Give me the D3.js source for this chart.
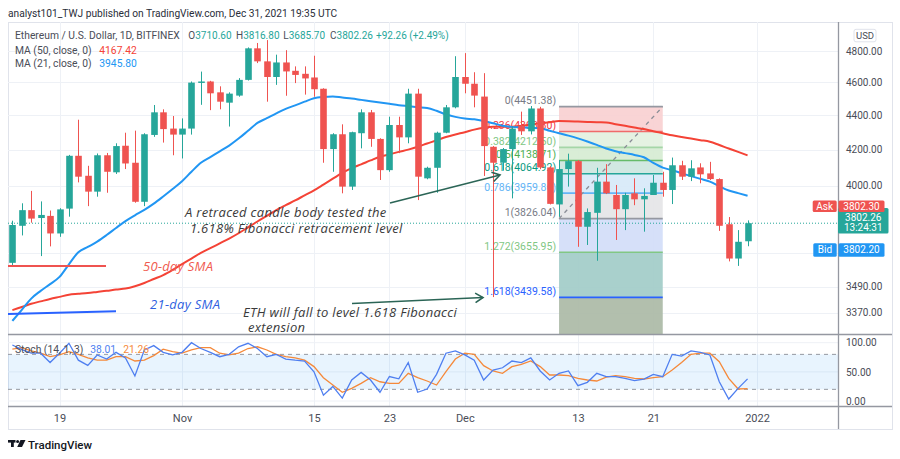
<!DOCTYPE html>
<html><head><meta charset="utf-8">
<script src="https://cdn.jsdelivr.net/npm/d3@7"></script>
<style>
html,body{margin:0;padding:0;background:#fff;}
svg{display:block;font-family:Roboto,"Liberation Sans",sans-serif;}
</style></head><body>
<svg id="chart" width="900" height="459"></svg>
<script>
// ---------------- DATA ----------------
const firstDay = "2021-10-14", lastDay = "2021-12-31";
const open  = [3604,3789,3870,3829,3840,3750,3878,4165,4054,3968,4168,4073,4222,4126,3914,4284,4417,4321,4286,4321,4596,4605,4538,4475,4518,4615,4816,4732,4633,4725,4672,4653,4630,4560,4203,4288,3995,4294,4417,4261,4085,4342,4270,4530,4040,4098,4297,4447,4633,4591,4512,4216,4126,4203,4335,4305,4440,4100,3900,4091,4135,3784,3856,4022,3950,3875,3959,3927,3950,4016,3977,4112,4049,4100,4067,4036,3797,3625,3710.6];
const high  = [3815,3906,3972,3916,3868,3880,4170,4373,4109,4178,4181,4236,4297,4309,4294,4461,4435,4395,4381,4605,4667,4609,4575,4538,4626,4822,4851,4870,4775,4804,4700,4700,4768,4563,4294,4346,4303,4435,4431,4265,4391,4391,4560,4560,4104,4303,4461,4765,4785,4663,4657,4220,4209,4334,4421,4455,4450,4107,4141,4177,4141,3879,4098,4118,4004,3962,4040,3986,4058,4076,4155,4137,4140,4123,4131,4040,3834,3767,3816.8];
const low   = [3593,3740,3805,3637,3685,3733,3836,4018,3891,3941,3962,4064,4091,3909,3891,4273,4240,4168,4150,4286,4462,4430,4435,4333,4511,4611,4721,4481,4584,4517,4595,4524,4511,4126,4076,3959,3977,4207,4216,4031,4076,4180,4236,3923,4035,3962,4294,4441,4532,4447,4053,3441,4082,3932,4284,4287,4090,3900,3835,3995,3683,3692,3614,3955,3717,3767,3896,3759,3950,3941,3902,4031,4025,4013,4031,3763,3611,3589,3685.7];
const close = [3793,3870,3826,3845,3750,3874,4165,4049,3968,4168,4076,4220,4122,3914,4288,4417,4318,4286,4321,4598,4605,4532,4481,4530,4615,4816,4732,4633,4725,4668,4646,4624,4557,4203,4288,3995,4300,4417,4261,4085,4342,4270,4530,4049,4098,4297,4447,4633,4591,4518,4220,4126,4203,4321,4305,4440,4100,3903,4091,4135,3784,3860,4022,3959,3875,3950,3927,3945,4016,3977,4112,4049,4095,4062,4036,3789,3625,3708,3802.26];
const ma50 = [3381,3395,3410,3421,3432,3442,3452,3456,3460,3465,3470,3476,3481,3492,3507,3526,3545,3570,3598,3625,3653,3676,3700,3724,3751,3781,3811,3840,3870,3896,3921,3948,3975,4006,4038,4070,4096,4117,4139,4160,4173,4187,4200,4216,4235,4253,4272,4287,4300,4315,4326,4332,4332,4332,4338,4345,4352,4358,4365,4364,4362,4360,4358,4357,4347,4337,4327,4318,4305,4294,4282,4272,4263,4254,4245,4226,4206,4187,4167.42];
const ma21 = [3332,3382,3434,3470,3502,3536,3597,3656,3682,3709,3742,3778,3813,3843,3871,3904,3942,3982,4024,4076,4126,4158,4190,4223,4263,4308,4354,4382,4411,4438,4459,4481,4502,4510,4513,4506,4500,4492,4484,4476,4468,4460,4454,4448,4443,4426,4404,4390,4380,4376,4366,4352,4338,4331,4328,4325,4323,4308,4294,4280,4264,4246,4227,4206,4191,4180,4170,4157,4125,4099,4084,4068,4052,4037,4022,3997,3974,3960,3945.8];
const stochK = [96,88,82,82,66,82,99,70,61,79,72,83.5,74,43,87.5,95,83.5,79,83.5,100,90,83.5,76,80,93,99,90,76,80,72,70,68.6,50,10,25,5,36,49,36,15,42,38,66,15,20.6,45.7,82,86,79,70,36,53,57,68.6,66,74,51.5,36,47.5,51.5,26.3,32,47.5,41.7,41.7,38.9,34.9,37.7,45.7,41.7,80,77,86,83.5,79,33,3.4,21.7,38.01];
const stochD = [89,91.5,86,82,76,79,84.6,80,74,70,70,76,76,68.6,70,77.8,89,84.6,82,87.5,91.5,91.5,82,79,82,90,93,87.5,80,76,74,70,59,40,27.4,14.9,21.7,30.3,40,33,30.3,30.3,47.5,40,34.3,27.4,50.3,72,82,80,60.6,51.5,47.5,59,63,68.6,59,44.6,44.6,43.5,38.9,36,34.3,41,43.5,41.7,38.9,37.7,40,41.7,53,66,80,82,82,67.5,38.9,20.6,21.26];
const priceTicks = [4800,4600,4400,4200,4000,3490,3370];
const extraGridPrices = [3650];
const stochTicks = [0,50,100];
const timeTickDates = ["2021-10-19","2021-11-01","2021-11-15","2021-11-23","2021-12-01","2021-12-13","2021-12-21","2022-01-01"];
const timeTickLabels = ["19","Nov","15","23","Dec","13","21","2022"];
const fibRatios = [0,0.236,0.382,0.5,0.618,0.786,1,1.272,1.618,2.618];
const fibStart = {date:"2021-12-11", price:3826.04};
const fibEnd = {date:"2021-12-22", price:4451.38};
const lastPrice = 3802.26, askPrice = 3802.30, bidPrice = 3802.20, countdown = "13:24:31";
const headerText = "analyst101_TWJ published on TradingView.com, Dec 31, 2021 19:35 UTC";
const symbolText = "Ethereum / U.S. Dollar, 1D, BITFINEX";
const ohlcLegend = [["O","3710.60"],["H","3816.80"],["L","3685.70"],["C","3802.26"]];
const changeText = "+92.26 (+2.49%)";
const maLegend = [["MA (50, close, 0)","4167.42"],["MA (21, close, 0)","3945.80"]];
const stochLegend = ["Stoch (14, 1, 3)","38.01","21.26"];
const note1 = ["A retraced candle body tested the","1.618% Fibonacci retracement level"];
const note2 = ["ETH will fall to level 1.618 Fibonacci","extension"];
const smaLabels = ["50-day SMA","21-day SMA"];

// ---------------- STYLE ----------------
const C = {up:"#26a69a", down:"#ef5350", ma50:"#f44336", ma21:"#2196f3", k:"#4f7ff0", d:"#f5893a",
  grid:"#eef1f6", sep:"#9598a1", text:"#4a4d57", arrow:"#2b6556", note:"#3a3a3a"};
const fibLine = {"0":"#9598a1","0.236":"#f06b6b","0.382":"#a5d6a7","0.5":"#66bb6a","0.618":"#26a69a","0.786":"#64b5f6","1":"#9598a1","1.272":"#81c784","1.618":"#2962ff","2.618":"#f23645"};
const fibLabel = {"0":"#787b86","0.236":"#f23645","0.382":"#81c784","0.5":"#4caf50","0.618":"#089981","0.786":"#64b5f6","1":"#787b86","1.272":"#81c784","1.618":"#2962ff"};
const fibFill = {"0":"#f9d0d1","0.236":"#e3f1df","0.382":"#d6ebd3","0.5":"#cde6df","0.618":"#d7e9f8","0.786":"#e5e5e7","1":"#d2ddf9","1.272":"#a2ccc8","1.618":"#abbaa6"};

const L = {left:8, right:838, outerRight:892, top:22, mainBottom:334.5, stochTop:335, stochBottom:406, axisBottom:429};

const svg = d3.select("#chart");
const parse = d3.utcParse("%Y-%m-%d");
const days = d3.utcDay.range(parse(firstDay), d3.utcDay.offset(parse(lastDay),1));
const bars = days.map((d,i)=>({date:d,o:open[i],h:high[i],l:low[i],c:close[i],ma50:ma50[i],ma21:ma21[i],k:stochK[i],d:stochD[i]}));

const x = d3.scaleUtc().domain([parse("2021-10-19"), parse("2022-01-01")]).range([59.5, 757]);
const y = d3.scaleLog().domain([3370,4800]).range([312.5,50.8]);
const ys = d3.scaleLinear().domain([0,100]).range([401,342.7]);
const barW = (x(parse("2021-10-20")) - x(parse("2021-10-19"))) * 0.7;

const defs = svg.append("defs");
defs.append("clipPath").attr("id","clipMain").append("rect").attr("x",L.left).attr("y",L.top).attr("width",L.right-L.left).attr("height",L.mainBottom-L.top);
defs.append("clipPath").attr("id","clipStoch").append("rect").attr("x",L.left).attr("y",L.stochTop).attr("width",L.right-L.left).attr("height",L.stochBottom-L.stochTop);

// header
svg.append("text").attr("x",8).attr("y",17).attr("font-size",10.2).attr("fill","#2a2e39").text(headerText);

// outer frame
svg.append("rect").attr("x",L.left+0.5).attr("y",L.top+0.5).attr("width",L.outerRight-L.left).attr("height",L.axisBottom-L.top).attr("fill","none").attr("stroke","#e0e3eb");

// background gridlines
const gBg = svg.append("g");
const tickDates = timeTickDates.map(parse);
gBg.selectAll("line.vg").data(tickDates).join("line").attr("x1",d=>Math.round(x(d))+0.5).attr("x2",d=>Math.round(x(d))+0.5)
  .attr("y1",L.top).attr("y2",L.stochBottom).attr("stroke",C.grid);
gBg.selectAll("line.hg").data(priceTicks.concat(extraGridPrices)).join("line").attr("x1",L.left).attr("x2",L.right)
  .attr("y1",d=>Math.round(y(d))+0.5).attr("y2",d=>Math.round(y(d))+0.5).attr("stroke",C.grid);

const gMain = svg.append("g").attr("clip-path","url(#clipMain)");

// Fibonacci
const p0 = fibEnd.price, p1 = fibStart.price;
const fibPrice = r => p0 - r*(p0-p1);
const fx0 = x(parse(fibStart.date)), fx1 = x(parse(fibEnd.date));
const gFib = gMain.append("g");
fibRatios.slice(0,-1).forEach((r,i)=>{
  const a = y(fibPrice(r)), b = y(fibPrice(fibRatios[i+1]));
  gFib.append("rect").attr("x",fx0).attr("width",fx1-fx0).attr("y",a).attr("height",b-a).attr("fill",fibFill[String(r)]).attr("opacity",0.92);
});
fibRatios.slice(0,-1).forEach(r=>{
  const yy = y(fibPrice(r));
  gFib.append("line").attr("x1",fx0).attr("x2",fx1).attr("y1",yy).attr("y2",yy).attr("stroke",fibLine[String(r)]).attr("stroke-width",1.6);
  gFib.append("text").attr("x",fx0-3).attr("y",yy-2.5).attr("text-anchor","end").attr("font-size",10.5)
    .attr("fill",fibLabel[String(r)]).text(`${r}(${fibPrice(r).toFixed(2)})`);
});
gFib.append("line").attr("x1",fx0).attr("y1",y(p1)).attr("x2",fx1).attr("y2",y(p0))
  .attr("stroke","#8a8d96").attr("stroke-width",1.3).attr("stroke-dasharray","4,4");

// price line
gMain.append("line").attr("x1",L.left).attr("x2",L.right).attr("y1",y(lastPrice)).attr("y2",y(lastPrice))
  .attr("stroke",C.up).attr("stroke-dasharray","1,2");

// MAs
const lineMain = key => d3.line().x(d=>x(d.date)).y(d=>y(d[key])).curve(d3.curveMonotoneX);
gMain.append("path").datum(bars).attr("d",lineMain("ma50")).attr("fill","none").attr("stroke",C.ma50).attr("stroke-width",2);
gMain.append("path").datum(bars).attr("d",lineMain("ma21")).attr("fill","none").attr("stroke",C.ma21).attr("stroke-width",2);

// candles
const gc = gMain.append("g");
gc.selectAll("line").data(bars).join("line")
  .attr("x1",d=>Math.round(x(d.date))+0.5).attr("x2",d=>Math.round(x(d.date))+0.5)
  .attr("y1",d=>y(d.h)).attr("y2",d=>y(d.l)).attr("stroke",d=>d.c>=d.o?C.up:C.down);
gc.selectAll("rect").data(bars).join("rect")
  .attr("x",d=>Math.round(x(d.date))+0.5-barW/2).attr("width",barW)
  .attr("y",d=>y(Math.max(d.o,d.c))).attr("height",d=>Math.max(1,Math.abs(y(d.o)-y(d.c))))
  .attr("fill",d=>d.c>=d.o?C.up:C.down);

// annotations
const gA = gMain.append("g");
gA.append("line").attr("x1",L.left).attr("x2",106).attr("y1",266).attr("y2",266).attr("stroke","#ef5350").attr("stroke-width",2);
gA.append("line").attr("x1",L.left).attr("x2",116).attr("y1",314).attr("y2",311.3).attr("stroke","#2962ff").attr("stroke-width",2);
const it = (t,xx,yy,col)=>gA.append("text").attr("x",xx).attr("y",yy).attr("font-size",13).attr("letter-spacing",0.3).attr("font-style","italic")
  .attr("font-family","'Open Sans',Roboto,sans-serif").attr("fill",col).text(t);
it(smaLabels[0],143,271,"#f05a4f");
it(smaLabels[1],150,309,"#2f5fe0");
it(note1[0],185,217,C.note); it(note1[1],190,232.5,C.note);
it(note2[0],243,317,C.note); it(note2[1],248,332,C.note);
function arrow(xa,ya,xb,yb){
  gA.append("line").attr("x1",xa).attr("y1",ya).attr("x2",xb).attr("y2",yb).attr("stroke",C.arrow).attr("stroke-width",1.6);
  const ang = Math.atan2(yb-ya,xb-xa), len=9;
  const pts = [[xb-len*Math.cos(ang-0.55), yb-len*Math.sin(ang-0.55)],[xb,yb],[xb-len*Math.cos(ang+0.55), yb-len*Math.sin(ang+0.55)]];
  gA.append("path").attr("d",d3.line()(pts)).attr("fill","none").attr("stroke",C.arrow).attr("stroke-width",1.6);
}
arrow(390,203,500,175);
arrow(352,303.5,483,297.5);

// legend
function legText(str, col, xx, yy, fs){
  const t = svg.append("text").attr("x",xx).attr("y",yy).attr("font-size",fs||10.3).attr("fill",col).text(str);
  return t.node().getComputedTextLength();
}
legText(symbolText, C.text, 15, 39);
const ohlcX = [188.3,236,283.3,330];
ohlcLegend.forEach((p,i)=>{
  const w = legText(p[0], C.text, ohlcX[i], 39, 10);
  legText(p[1], C.up, ohlcX[i]+w, 39, 10);
});
legText(changeText, C.up, 376, 39, 10);
maLegend.forEach((m,i)=>{
  legText(m[0], C.text, 15, 53.5+i*13.7);
  legText(m[1], i?C.ma21:C.ma50, 99.3, 53.5+i*13.7);
});

// stoch pane
const gS = svg.append("g").attr("clip-path","url(#clipStoch)");
gS.selectAll("line.sg").data(stochTicks).join("line").attr("x1",L.left).attr("x2",L.right)
  .attr("y1",d=>ys(d)).attr("y2",d=>ys(d)).attr("stroke",C.grid);
gS.append("rect").attr("x",L.left).attr("width",L.right-L.left).attr("y",ys(80)).attr("height",ys(20)-ys(80)).attr("fill","rgba(33,150,243,0.1)");
[80,20].forEach(v=>gS.append("line").attr("x1",L.left).attr("x2",L.right).attr("y1",ys(v)).attr("y2",ys(v))
  .attr("stroke","#9598a1").attr("stroke-dasharray","4,4"));
const lineS = key => d3.line().x(d=>x(d.date)).y(d=>ys(d[key]));
gS.append("path").datum(bars).attr("d",lineS("d")).attr("fill","none").attr("stroke",C.d).attr("stroke-width",1.3);
gS.append("path").datum(bars).attr("d",lineS("k")).attr("fill","none").attr("stroke",C.k).attr("stroke-width",1.3);
let sx = 15;
sx += legText(stochLegend[0], C.text, sx, 352.5) + 7;
sx += legText(stochLegend[1], C.k, sx, 352.5) + 7;
legText(stochLegend[2], C.d, sx, 352.5);

// separators
svg.append("line").attr("x1",L.left).attr("x2",L.outerRight).attr("y1",334.5).attr("y2",334.5).attr("stroke",C.sep).attr("stroke-width",1.3);
svg.append("line").attr("x1",L.left).attr("x2",L.outerRight).attr("y1",406.5).attr("y2",406.5).attr("stroke",C.sep).attr("stroke-width",1.3);
svg.append("line").attr("x1",838.5).attr("x2",838.5).attr("y1",L.top).attr("y2",L.axisBottom).attr("stroke",C.sep).attr("stroke-width",1.3);

// axes
const ax = svg.append("g").attr("transform","translate(838,0)")
  .call(d3.axisRight(y).tickValues(priceTicks).tickFormat(d3.format(".2f")).tickSize(0).tickPadding(8));
ax.select(".domain").remove();
ax.selectAll("text").attr("font-size",10).attr("fill",C.text).attr("font-family","Roboto,sans-serif");
const axs = svg.append("g").attr("transform","translate(838,0)")
  .call(d3.axisRight(ys).tickValues(stochTicks).tickFormat(d3.format(".2f")).tickSize(0).tickPadding(8));
axs.select(".domain").remove();
axs.selectAll("text").attr("font-size",10).attr("fill",C.text).attr("font-family","Roboto,sans-serif");
const axt = svg.append("g").attr("transform","translate(0,406)")
  .call(d3.axisBottom(x).tickValues(tickDates).tickFormat((d,i)=>timeTickLabels[i]).tickSize(0).tickPadding(8));
axt.select(".domain").remove();
axt.selectAll("text").attr("font-size",11).attr("fill",C.text).attr("font-family","Roboto,sans-serif");

// USD badge
svg.append("rect").attr("x",854).attr("y",29.3).attr("width",22).attr("height",12.5).attr("rx",2).attr("fill","#fff").attr("stroke","#e0e3eb");
svg.append("text").attr("x",865).attr("y",39).attr("text-anchor","middle").attr("font-size",9.5).attr("fill",C.text).text("USD");

// price badges
function badge(x0,y0,w,h,fill,lines,base,step){
  svg.append("rect").attr("x",x0).attr("y",y0).attr("width",w).attr("height",h).attr("rx",1.5).attr("fill",fill);
  lines.forEach((t,i)=>svg.append("text").attr("x",x0+w/2).attr("y",y0+base+i*(step||0)).attr("text-anchor","middle")
    .attr("font-size",10).attr("fill","#fff").text(t));
}
badge(838,208,50.5,25.5,C.up,[lastPrice.toFixed(2),countdown],12.6,10.8);
badge(812.7,200.5,24,11.5,"#ef5350",["Ask"],9);
badge(838.5,200.5,46,11.5,"#ef5350",[askPrice.toFixed(2)],9);
badge(813.3,243.3,23.4,13.4,"#2196f3",["Bid"],10);
badge(838.5,243.3,46,13.4,"#2196f3",[bidPrice.toFixed(2)],10);

// TradingView logo
const lg = svg.append("g").attr("fill","#131722");
lg.append("rect").attr("x",8).attr("y",440).attr("width",7.5).attr("height",2.6);
lg.append("rect").attr("x",11).attr("y",440).attr("width",2.8).attr("height",7);
lg.append("circle").attr("cx",17.6).attr("cy",441.4).attr("r",1.5);
lg.append("path").attr("d","M20.5,440 L25.5,440 L22,447 L17.2,447 Z");
svg.append("text").attr("x",28).attr("y",448.5).attr("font-size",11.5).attr("font-weight",500).attr("fill","#131722").text("TradingView");
</script>
</body></html>
